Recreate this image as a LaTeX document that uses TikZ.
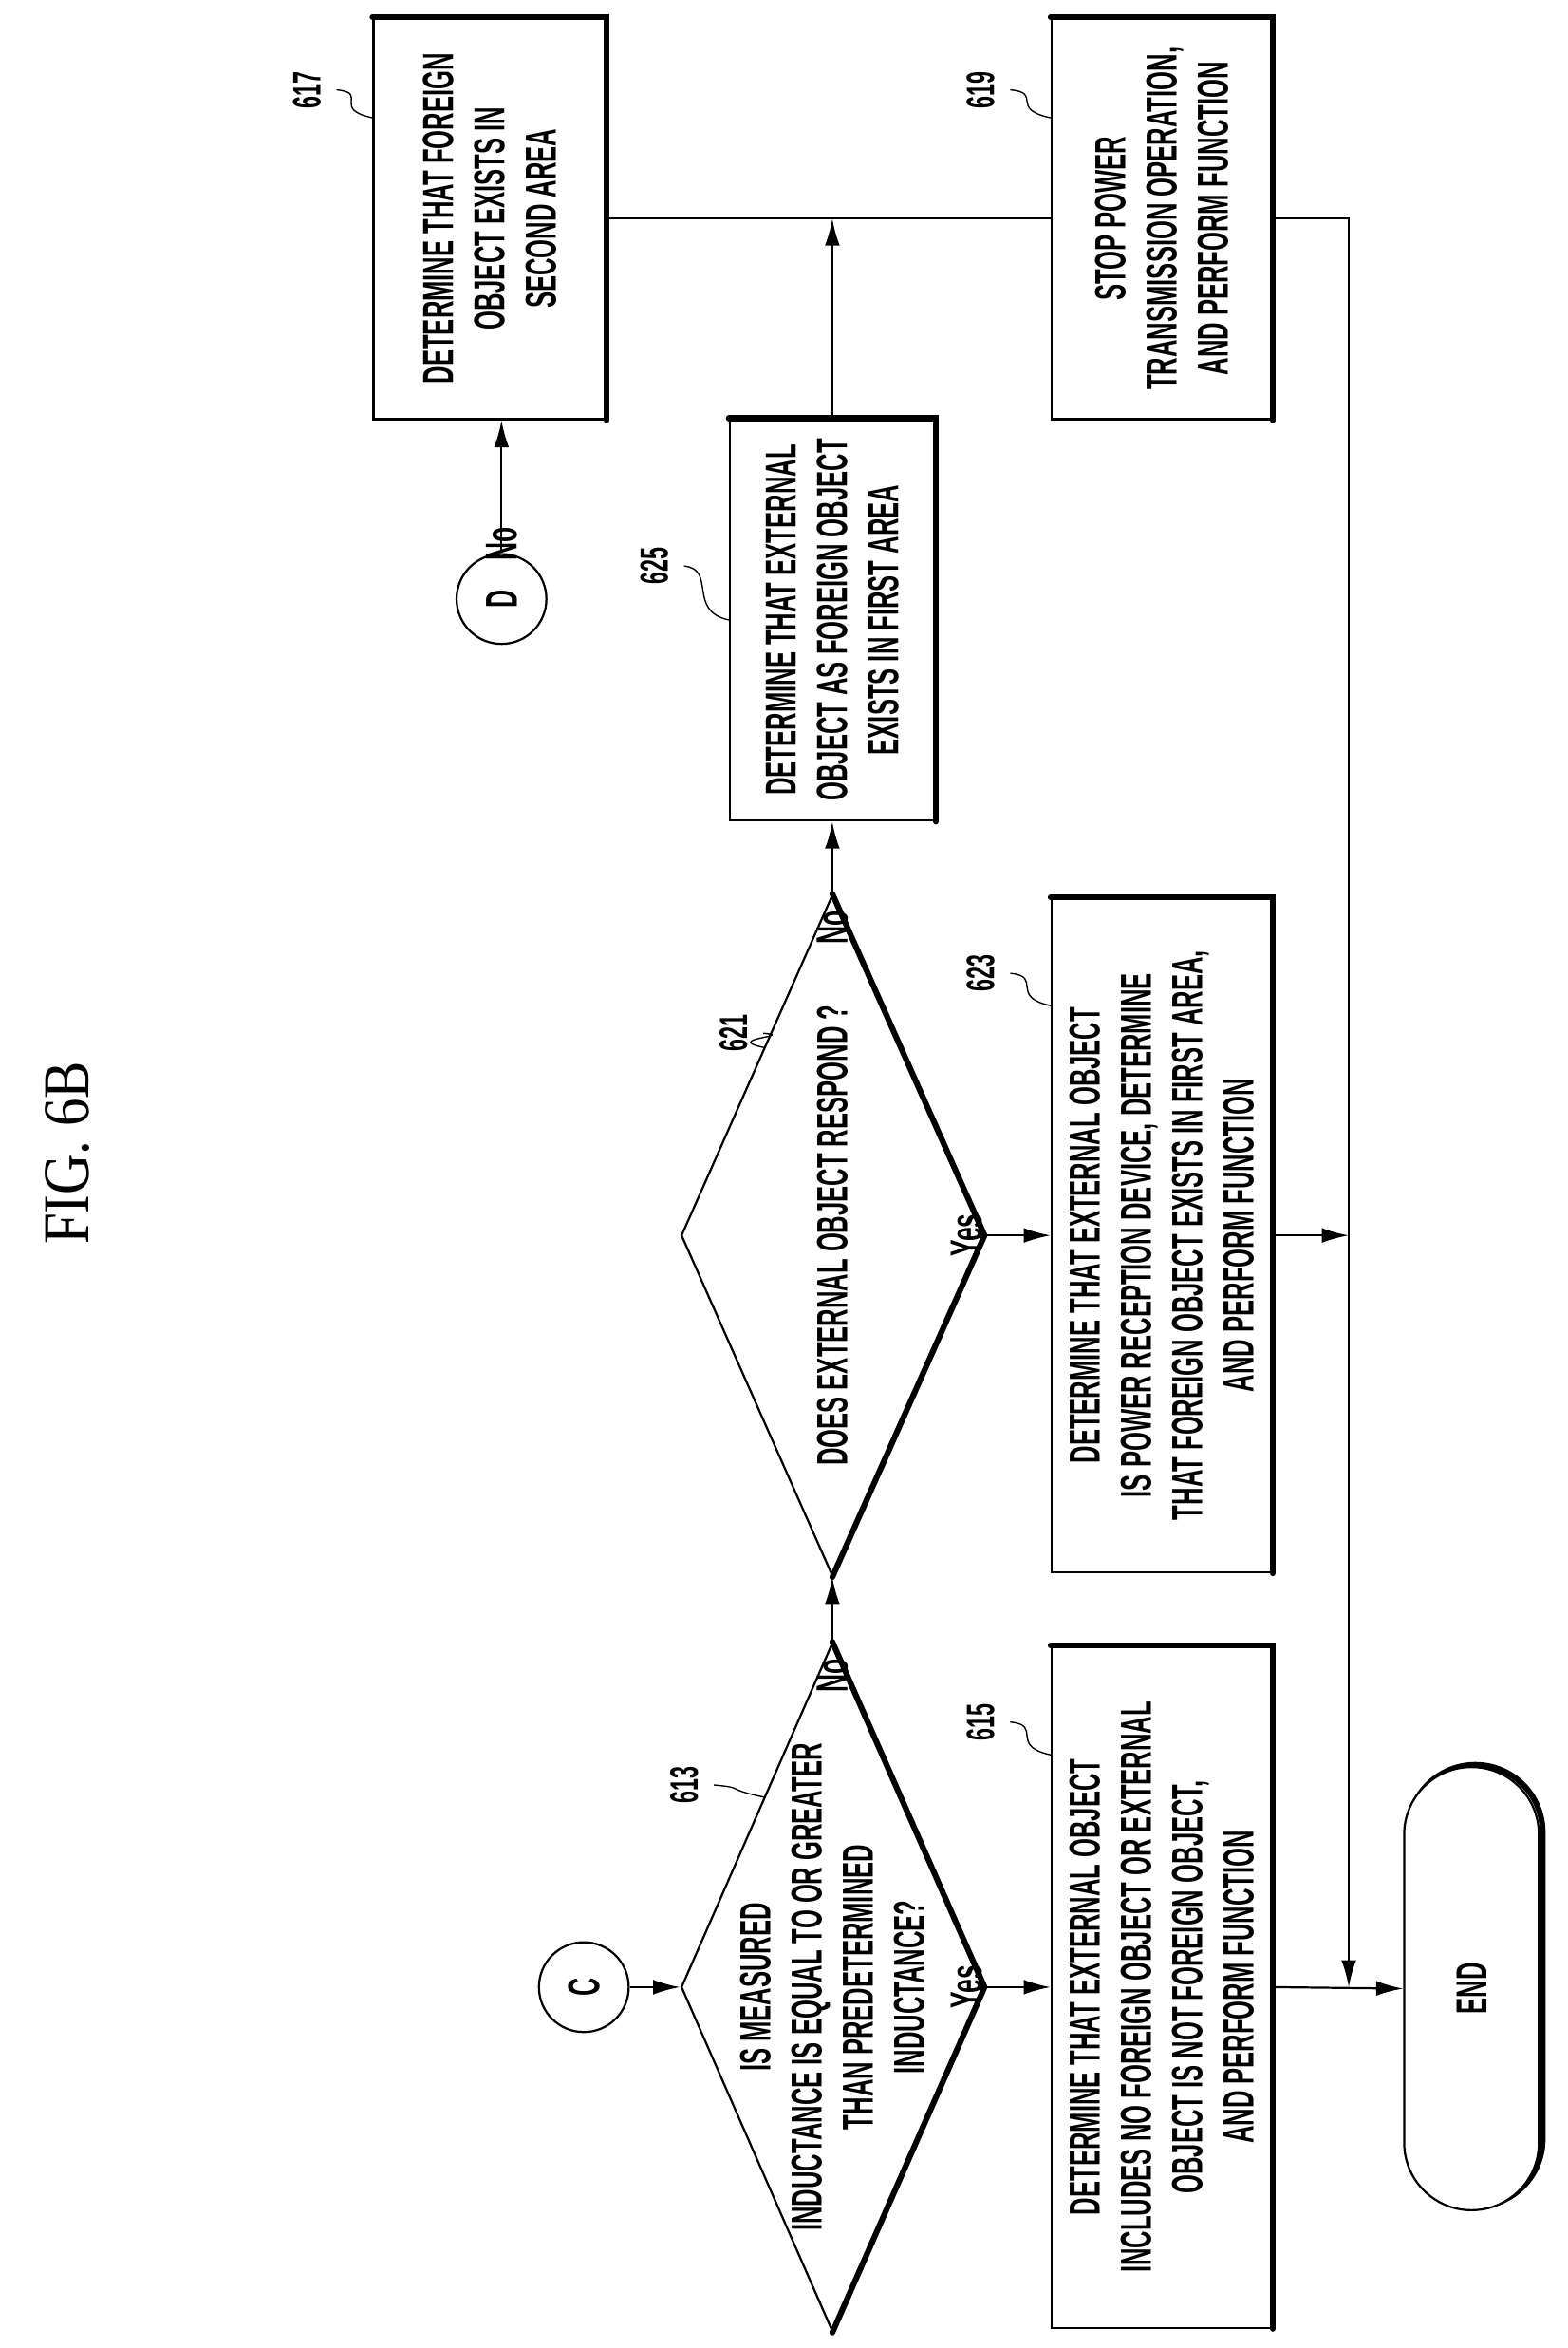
\documentclass[tikz,border=0pt]{standalone}
\usepackage{fontspec}
\newfontfamily\boxfont{Liberation Sans}[FakeStretch=0.56]
\newfontfamily\figfont{Liberation Serif}[FakeStretch=0.85]
\usetikzlibrary{shapes.geometric,shapes.misc,arrows.meta,calc}
\tikzset{
  every picture/.style={x=0.02cm,y=0.02cm,line width=0.8pt,>={Latex[length=3.6mm,width=2mm]}},
  txt/.style={rotate=90,font=\boxfont\bfseries\fontsize{16.5}{19.5}\selectfont,align=center},
  proc/.style={draw,rectangle,rotate=90,inner sep=0pt},
  ask/.style={draw,diamond,rotate=90,inner sep=0pt,minimum height=4.04cm},
  conn/.style={draw,circle,inner sep=0pt,minimum size=1.2cm,font=\boxfont\bfseries\fontsize{17}{19}\selectfont},
  num/.style={rotate=90,font=\boxfont\bfseries\fontsize{15}{17}\selectfont},
  yn/.style={rotate=90,font=\boxfont\bfseries\fontsize{17}{19}\selectfont},
  heavy/.style={line width=2.2pt,line cap=round},
  lead/.style={line width=0.5pt}
}
\begin{document}
\begin{tikzpicture}
  \useasboundingbox (0,0) rectangle (1047,-1568);
  \node[rotate=90,font=\figfont\fontsize{25}{28}\selectfont] (fig) at (45,-770) {FIG.~6B};

  % connectors C and D
  \node[conn] (C) at (390,-1327) {\rotatebox{90}{C}};
  \node[conn] (D) at (335,-400) {\rotatebox{90}{D}};

  % decisions
  \node[ask,minimum width=9.2cm] (d613) at (556,-1327) {};
  \node[txt] at (d613) {IS MEASURED\\INDUCTANCE IS EQUAL TO OR GREATER\\THAN PREDETERMINED\\INDUCTANCE?};
  \node[ask,minimum width=9.1cm] (d621) at (556,-825) {};
  \node[txt] at (d621) {DOES EXTERNAL OBJECT RESPOND ?};

  % process boxes
  \node[proc,minimum width=9.1cm,minimum height=2.94cm] (b615) at (776,-1327) {};
  \node[txt] at (b615) {DETERMINE THAT EXTERNAL OBJECT\\INCLUDES NO FOREIGN OBJECT OR EXTERNAL\\OBJECT IS NOT FOREIGN OBJECT,\\AND PERFORM FUNCTION};
  \node[proc,minimum width=9cm,minimum height=2.94cm] (b623) at (776,-825) {};
  \node[txt] at (b623) {DETERMINE THAT EXTERNAL OBJECT\\IS POWER RECEPTION DEVICE, DETERMINE\\THAT FOREIGN OBJECT EXISTS IN FIRST AREA,\\AND PERFORM FUNCTION};
  \node[proc,minimum width=5.36cm,minimum height=2.74cm] (b625) at (556,-414) {};
  \node[txt] at (b625) {DETERMINE THAT EXTERNAL\\OBJECT AS FOREIGN OBJECT\\EXISTS IN FIRST AREA};
  \node[proc,minimum width=5.36cm,minimum height=3.1cm] (b617) at (327,-146) {};
  \node[txt] at (b617) {DETERMINE THAT FOREIGN\\OBJECT EXISTS IN\\SECOND AREA};
  \node[proc,minimum width=5.36cm,minimum height=2.94cm] (b619) at (776,-146) {};
  \node[txt] at (b619) {STOP POWER\\TRANSMISSION OPERATION,\\AND PERFORM FUNCTION};

  % terminal
  \node[draw,rounded rectangle,rotate=90,inner sep=0pt,minimum width=5.9cm,minimum height=1.8cm,line width=2.2pt] at (985.5,-1326) {};
  \node[draw,fill=white,rounded rectangle,rotate=90,inner sep=0pt,minimum width=5.92cm,minimum height=1.8cm] (end) at (983,-1328) {};
  \node[txt] at (end) {END};

  % shadows on the top and right sides
  \foreach \b in {b615,b623,b625,b617,b619}
    \draw[heavy] (\b.north east) -- (\b.south east) -- (\b.south west);
  \foreach \d in {d613,d621}
    \draw[heavy] (\d.east) -- (\d.south) -- (\d.west);

  % flow
  \coordinate (j1) at (901,-825);
  \coordinate (j2) at (901,-1327);
  \coordinate (j0) at (901,-146);
  \draw[->] (C) -- (d613.north);
  \draw[->] (d613.south) -- (b615.north) node[yn,pos=0.35,above=6pt] {Yes};
  \draw[->] (d613.east) -- (d621.west) node[yn,pos=0.05,left=4pt] {No};
  \draw[->] (d621.south) -- (b623.north) node[yn,pos=0.35,above=6pt] {Yes};
  \draw[->] (d621.east) -- (b625.west) node[yn,pos=0.05,left=4pt] {No};
  \draw[->] (b625.east) -- (b625.east |- b617.south);
  \draw (b617.south) -- (b619.north);
  \draw[->] (D) -- (D |- b617.west) node[yn,pos=0.35,left=4pt] {No};
  \draw[->] (b619.south) -- (j0) -- (j2);
  \draw[->] (b623.south) -- (j1);
  \draw[->] (b615.south) -- (end.north);

  % reference numerals
  \node[num] (l613) at (457,-1192) {613};
  \node[num] (l615) at (655,-1150) {615};
  \node[num] (l621) at (490,-690) {621};
  \node[num] (l623) at (655,-650) {623};
  \node[num] (l625) at (437,-378) {625};
  \node[num] (l617) at (205,-60) {617};
  \node[num] (l619) at (655,-60) {619};
  \coordinate (t613) at ($(d613.east)!0.45!(d613.north)$);
  \coordinate (t621) at ($(d621.east)!0.45!(d621.north)$);
  \coordinate (t615) at ($(b615.north east)!0.16!(b615.north west)$);
  \coordinate (t623) at ($(b623.north east)!0.16!(b623.north west)$);
  \coordinate (t625) at ($(b625.north east)!0.5!(b625.north west)$);
  \coordinate (t617) at ($(b617.north east)!0.25!(b617.north west)$);
  \coordinate (t619) at ($(b619.north east)!0.25!(b619.north west)$);
  \foreach \l in {613,615,621,623,625,617,619}
    \draw[lead] (l\l.south) ++(4,0) .. controls +(22,-2) and +(-28,6) .. (t\l);
\end{tikzpicture}
\end{document}
